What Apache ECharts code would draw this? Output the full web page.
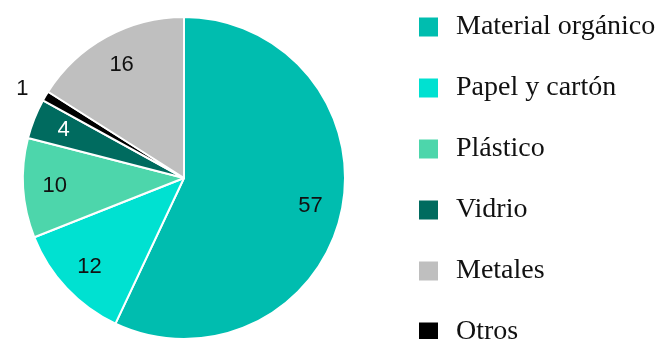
<!DOCTYPE html>
<html>
<head>
<meta charset="utf-8">
<script src="https://cdn.jsdelivr.net/npm/echarts@6/dist/echarts.min.js"></script>
<style>
  html, body { margin: 0; padding: 0; background: #fff; }
</style>
</head>
<body>
<div id="chart" style="width: 664px;height: 339px;"></div>
<script>
// slices, clockwise from the top
var categories = ['Material orgánico', 'Papel y cartón', 'Plástico', 'Vidrio', 'Otros', 'Metales']
var values = [57, 12, 10, 4, 1, 16]
var colors = ['#00bdaf', '#00e1d1', '#4dd6ab', '#006b5f', '#000000', '#bfbfbf']
var labelColors = ['#111', '#111', '#111', '#fff', '#111', '#111']
// legend order differs from slice order
var legendOrder = ['Material orgánico', 'Papel y cartón', 'Plástico', 'Vidrio', 'Metales', 'Otros']

var chart = echarts.init(document.getElementById('chart'))

var sliceData = categories.map(function (name, i) {
  return { name: name, value: values[i], itemStyle: { color: colors[i] } }
})

// second transparent ring only carries the number labels (placed ~0.78 r)
var labelData = categories.map(function (name, i) {
  var item = {
    name: name,
    value: values[i],
    label: { color: labelColors[i] }
  }
  if (name === 'Otros') {
    item.label.position = 'outside'
    item.labelLine = { show: false, length: 14, length2: 0 }
  }
  return item
})

var option = {
  animation: false,
  legend: {
    orient: 'vertical',
    left: 417,
    top: 13,
    height: 345,
    padding: 0,
    data: legendOrder,
    icon: 'rect',
    itemWidth: 21,
    itemHeight: 21,
    itemGap: 33,
    selectedMode: false,
    textStyle: {
      fontFamily: 'Liberation Serif',
      fontSize: 28,
      color: '#111',
      padding: [0, 0, 0, 12]
    }
  },
  series: [
    {
      name: 'base',
      type: 'pie',
      center: [184, 178],
      radius: [0, 161],
      startAngle: 90,
      clockwise: true,
      avoidLabelOverlap: false,
      silent: true,
      label: { show: false },
      labelLine: { show: false },
      itemStyle: { borderColor: '#fff', borderWidth: 2 },
      data: sliceData
    },
    {
      name: 'labels',
      type: 'pie',
      center: [184, 178],
      radius: [92, 161],
      startAngle: 90,
      clockwise: true,
      avoidLabelOverlap: false,
      silent: true,
      itemStyle: { color: 'rgba(0,0,0,0)', borderWidth: 0 },
      label: {
        show: true,
        position: 'inside',
        formatter: '{c}',
        fontFamily: 'Liberation Sans',
        fontSize: 22
      },
      labelLine: { show: false },
      data: labelData
    }
  ]
}

chart.setOption(option)
</script>
</body>
</html>
